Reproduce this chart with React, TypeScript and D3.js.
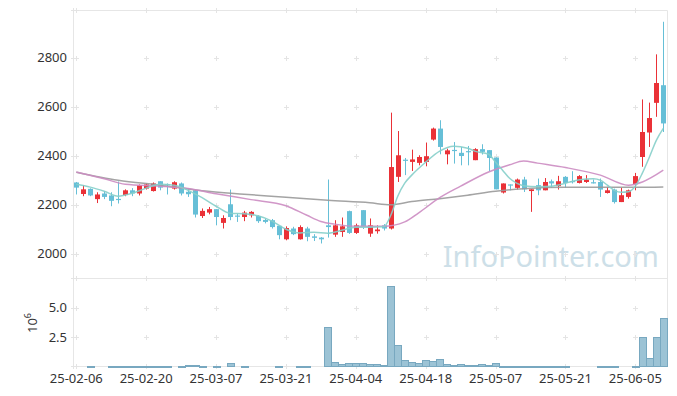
import React, { useEffect, useRef } from "react";
import * as d3 from "d3";

// daily candles, index 0 = 25-02-06 (trading days only)
const opens = [2290, 2243, 2264, 2222, 2245, 2237, 2223, 2239, 2258, 2245, 2265, 2255, 2295, 2283, 2265, 2286, 2252, 2258, 2153, 2167,
  2181, 2125, 2201, 2155, 2149, 2156, 2153, 2137, 2136, 2113, 2058, 2102, 2058, 2102, 2070, 2065, 2115, 2077, 2088, 2173,
  2084, 2177, 2081, 2091, 2115, 2102, 2313, 2383, 2374, 2370, 2374, 2465, 2510, 2405, 2423, 2411, 2418, 2381, 2426, 2422,
  2392, 2249, 2282, 2268, 2302, 2255, 2279, 2258, 2295, 2275, 2313, 2296, 2288, 2292, 2291, 2292, 2247, 2261, 2210, 2231,
  2283, 2394, 2494, 2615, 2687];
const highs = [2292, 2279, 2266, 2250, 2255, 2250, 2294, 2262, 2267, 2282, 2286, 2290, 2295, 2286, 2295, 2290, 2262, 2261, 2184, 2190,
  2181, 2156, 2261, 2163, 2174, 2173, 2156, 2143, 2141, 2113, 2111, 2109, 2115, 2109, 2079, 2067, 2302, 2136, 2147, 2175,
  2122, 2177, 2143, 2115, 2120, 2575, 2500, 2390, 2424, 2401, 2453, 2514, 2544, 2428, 2455, 2435, 2439, 2430, 2446, 2422,
  2392, 2286, 2282, 2306, 2313, 2262, 2306, 2308, 2302, 2317, 2316, 2336, 2320, 2320, 2302, 2306, 2272, 2265, 2268, 2261,
  2329, 2629, 2616, 2813, 2946];
const lows = [2241, 2234, 2234, 2206, 2222, 2193, 2204, 2234, 2234, 2237, 2261, 2253, 2258, 2241, 2261, 2237, 2231, 2147, 2145, 2160,
  2115, 2102, 2136, 2129, 2132, 2147, 2125, 2123, 2102, 2058, 2054, 2075, 2057, 2050, 2051, 2041, 2065, 2068, 2068, 2080,
  2080, 2100, 2068, 2081, 2094, 2098, 2292, 2320, 2337, 2360, 2356, 2461, 2405, 2364, 2367, 2360, 2360, 2381, 2404, 2337,
  2262, 2245, 2258, 2261, 2251, 2170, 2238, 2258, 2269, 2261, 2269, 2286, 2286, 2288, 2286, 2231, 2245, 2204, 2210, 2224,
  2258, 2354, 2435, 2558, 2496];
const closes = [2269, 2262, 2237, 2241, 2231, 2215, 2220, 2258, 2245, 2279, 2282, 2286, 2269, 2281, 2291, 2245, 2242, 2159, 2174, 2181,
  2149, 2145, 2149, 2153, 2167, 2170, 2132, 2129, 2108, 2075, 2104, 2079, 2108, 2068, 2064, 2058, 2108, 2115, 2111, 2084,
  2115, 2109, 2115, 2098, 2102, 2353, 2401, 2380, 2384, 2394, 2397, 2510, 2435, 2421, 2420, 2398, 2416, 2426, 2415, 2390,
  2262, 2286, 2280, 2302, 2262, 2262, 2258, 2292, 2286, 2295, 2288, 2294, 2316, 2302, 2289, 2261, 2258, 2210, 2238, 2258,
  2316, 2496, 2553, 2696, 2531];
// volume in millions of shares
const volumes = [0, 0, 0.08, 0, 0, 0.08, 0.08, 0.08, 0.08, 0.08, 0.08, 0.08, 0.08, 0.08, 0, 0.08, 0.17, 0.17, 0.08, 0,
  0.08, 0, 0.28, 0, 0.08, 0, 0, 0, 0, 0.08, 0, 0, 0.08, 0.08, 0, 0, 3.34, 0.37, 0.2, 0.28,
  0.28, 0.28, 0.2, 0.2, 0.1, 6.84, 1.84, 0.54, 0.37, 0.28, 0.54, 0.45, 0.62, 0.2, 0.1, 0.2, 0.1, 0.1, 0.2, 0.1,
  0.28, 0.08, 0.08, 0.08, 0.08, 0.08, 0.08, 0.08, 0.08, 0.08, 0.08, 0, 0, 0, 0, 0.08, 0.08, 0.08, 0, 0,
  0.05, 2.5, 0.71, 2.5, 4.1];

// moving averages (day index, price)
const ma5Days = [0, 2, 4, 6, 8, 10, 12, 14, 16, 18, 20, 22, 24, 26, 28, 30, 32, 34, 36, 38, 40, 42, 44, 45, 46, 47, 48, 50, 52, 54,
  56, 57, 59, 60, 61, 62, 63, 64, 66, 68, 70, 72, 74, 75, 76, 77, 78, 79, 80, 81, 82, 83, 84];
const ma5 = [2283, 2271, 2254, 2234, 2246, 2267, 2283, 2279, 2258, 2228, 2193, 2164, 2162, 2154, 2132, 2099, 2084, 2087, 2083, 2095,
  2107, 2107, 2109, 2156, 2234, 2287, 2320, 2373, 2418, 2438, 2430, 2418, 2405, 2373, 2340, 2307, 2287, 2277, 2273, 2275,
  2287, 2301, 2305, 2299, 2279, 2258, 2250, 2252, 2275, 2328, 2393, 2462, 2511];
const ma20Days = [0, 4, 7, 12, 16, 20, 25, 30, 33, 35, 37, 40, 44, 47, 49, 52, 55, 59, 62, 64, 66, 70, 75, 79, 81, 84];
const ma20 = [2333, 2305, 2283, 2275, 2265, 2244, 2220, 2195, 2156, 2131, 2120, 2111, 2111, 2129, 2166, 2228, 2275, 2333, 2362, 2378,
  2369, 2351, 2320, 2279, 2292, 2340];
const ma60Days = [0, 6, 12, 18, 24, 30, 36, 42, 45, 48, 52, 56, 60, 64, 70, 76, 80, 84];
const ma60 = [2332, 2299, 2279, 2256, 2242, 2230, 2217, 2207, 2199, 2212, 2224, 2238, 2254, 2264, 2270, 2270, 2270, 2272];

const xTickDays = [0, 10, 20, 30, 40, 50, 60, 70, 80];
const xTickLabels = ["25-02-06", "25-02-20", "25-03-07", "25-03-21", "25-04-04", "25-04-18", "25-05-07", "25-05-21", "25-06-05"];
const priceTicks = [2000, 2200, 2400, 2600, 2800];
const volTicks = [2.5, 5.0];

const FONT = "'Noto Sans', 'DejaVu Sans', sans-serif";

export default function App() {
  const ref = useRef<SVGSVGElement>(null);

  useEffect(() => {
    const svg = d3.select(ref.current);
    svg.selectAll("*").remove();

    const left = 73.5, right = 667.5, top = 10.5, mid = 278.5, bottom = 366.5;

    const x = d3.scaleLinear().domain([-0.4, 84.6]).range([left, right]);
    const y = d3.scaleLinear().domain([1898, 2992]).range([mid, top]);
    const yv = d3.scaleLinear().domain([0, 7.49]).range([bottom, mid]);
    const px = (i: number) => Math.round(x(i)) + 0.5;

    // watermark
    svg.append("text")
      .attr("x", 659)
      .attr("y", 267)
      .attr("text-anchor", "end")
      .style("font-family", FONT)
      .style("font-size", "29px")
      .attr("fill", "#cddfe8")
      .text("InfoPointer.com");

    // frame
    const frame = svg.append("g").attr("stroke", "#e6e6e6").attr("fill", "none");
    frame.append("line").attr("x1", left).attr("x2", left).attr("y1", top).attr("y2", bottom);
    frame.append("line").attr("x1", right).attr("x2", right).attr("y1", top).attr("y2", bottom);
    frame.append("line").attr("x1", left).attr("x2", right).attr("y1", top).attr("y2", top);
    frame.append("line").attr("x1", left).attr("x2", right).attr("y1", mid).attr("y2", mid);
    frame.append("line").attr("x1", left).attr("x2", right).attr("y1", bottom).attr("y2", bottom);

    // grid crosses
    const crossX = [left, ...xTickDays.map(px)];
    const crossY = [top, ...priceTicks.map(t => Math.round(y(t)) + 0.5), mid,
      ...volTicks.map(t => Math.round(yv(t)) + 0.5), bottom];
    const crosses = svg.append("g").attr("stroke", "#e4e4e4");
    crossX.forEach(cx => {
      crossY.forEach(cy => {
        crosses.append("line").attr("x1", cx - 2.5).attr("x2", cx + 2.5).attr("y1", cy).attr("y2", cy);
        crosses.append("line").attr("x1", cx).attr("x2", cx).attr("y1", cy - 2.5).attr("y2", cy + 2.5);
      });
    });

    // price labels
    svg.append("g").selectAll("text")
      .data(priceTicks)
      .join("text")
      .attr("x", 67)
      .attr("y", d => y(d))
      .attr("dy", "0.35em")
      .attr("text-anchor", "end")
      .attr("fill", "#333")
      .style("font-family", FONT)
      .style("font-size", "13px")
      .text(d => d);

    // volume labels
    svg.append("g").selectAll("text")
      .data(volTicks)
      .join("text")
      .attr("x", 67)
      .attr("y", d => yv(d))
      .attr("dy", "0.35em")
      .attr("text-anchor", "end")
      .attr("fill", "#333")
      .style("font-family", FONT)
      .style("font-size", "13px")
      .text(d => d.toFixed(1));

    const unit = svg.append("text")
      .attr("transform", "translate(37,333) rotate(-90)")
      .attr("fill", "#333")
      .style("font-family", FONT)
      .style("font-size", "13px");
    unit.append("tspan").text("10");
    unit.append("tspan").attr("dy", -6).style("font-size", "9px").text("6");

    // date labels
    svg.append("g").selectAll("text")
      .data(xTickDays)
      .join("text")
      .attr("x", d => x(d))
      .attr("y", 378)
      .attr("dy", "0.35em")
      .attr("text-anchor", "middle")
      .attr("fill", "#333")
      .style("font-family", FONT)
      .style("font-size", "13px")
      .text((d, i) => xTickLabels[i]);

    // volume bars
    svg.append("g").selectAll("rect")
      .data(volumes.map((v, i) => ({ v, i })).filter(d => d.v > 0))
      .join("rect")
      .attr("x", d => Math.round(x(d.i - 0.5)) + 0.5)
      .attr("width", d => Math.round(x(d.i + 0.5)) - Math.round(x(d.i - 0.5)))
      .attr("y", d => Math.round(yv(d.v)) + 0.5)
      .attr("height", d => Math.max(1, bottom - (Math.round(yv(d.v)) + 0.5)))
      .attr("fill", "#9cc3d5")
      .attr("stroke", "#78a8c0");

    // candles
    const up = "#ea3137", down = "#66bfd7";
    const candles = svg.append("g");
    closes.forEach((c, i) => {
      const o = opens[i];
      const col = c >= o ? up : down;
      const cx = px(i);
      candles.append("line")
        .attr("x1", cx).attr("x2", cx)
        .attr("y1", y(highs[i])).attr("y2", y(lows[i]))
        .attr("stroke", col);
      const y0 = y(Math.max(o, c));
      const h = Math.max(1.2, Math.abs(y(o) - y(c)));
      candles.append("rect")
        .attr("x", cx - 2.5)
        .attr("y", y0)
        .attr("width", 5)
        .attr("height", h)
        .attr("fill", col);
    });

    // moving averages
    const drawLine = (days: number[], vals: number[], color: string) => {
      const line = d3.line<number>()
        .x((d, i) => x(days[i]))
        .y(d => y(d))
        .curve(d3.curveMonotoneX);
      svg.append("path")
        .attr("d", line(vals))
        .attr("fill", "none")
        .attr("stroke", color)
        .attr("stroke-width", 1.5)
        .attr("opacity", 0.9);
    };
    drawLine(ma60Days, ma60, "#9a9a9a");
    drawLine(ma20Days, ma20, "#cc8cc2");
    drawLine(ma5Days, ma5, "#86cfca");
  }, []);

  return (
    <svg ref={ref} width={677} height={396}
      style={{ position: "absolute", left: 0, top: 0, background: "#fff" }} />
  );
}
